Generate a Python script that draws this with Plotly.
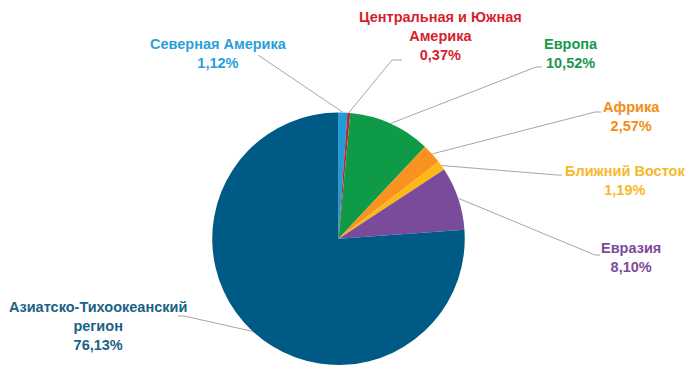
import math
import plotly.graph_objects as go

# ---- data ----
regions = ["Северная Америка", "Центральная и Южная Америка", "Европа", "Африка",
           "Ближний Восток", "Евразия", "Азиатско-Тихоокеанский регион"]
shares = [1.12, 0.37, 10.52, 2.57, 1.19, 8.10, 76.13]
share_labels = ["1,12%", "0,37%", "10,52%", "2,57%", "1,19%", "8,10%", "76,13%"]
label_texts = ["Северная Америка", "Центральная и Южная<br>Америка", "Европа", "Африка",
               "Ближний Восток", "Евразия", "Азиатско-Тихоокеанский<br>регион"]
slice_colors = ["#1B9DDE", "#C1272D", "#0E9A47", "#F7931E", "#FDB913", "#7B4B9B", "#005A86"]
text_colors = ["#2A9FDA", "#D51F2E", "#19984E", "#F28E12", "#F6B82A", "#7B4B9B", "#1A6286"]

# ---- layout (pixels, in window coordinates; page body has an 8px margin) ----
OFF = 8
W, H = 695 - OFF, 375 - OFF
dom_x = (212, 465)
dom_y = (112.5, 365)
cx = (dom_x[0] + dom_x[1]) / 2
cy = (dom_y[0] + dom_y[1]) / 2
R = (dom_x[1] - dom_x[0]) / 2

# label centre positions (px) and leader elbow/end points (px)
label_pos = [(219, 54), (440, 36), (571, 53), (631, 116), (625, 180), (631, 258), (98, 326)]
leader_elbow = [(258, 55), (392, 60), (536, 67), (595, 112), (557, 175), (595, 255), (184, 316)]
leader_end = [(258, 55), (402, 60), (542, 67), (601, 112), (562, 175), (600, 255), (178, 316)]

def px(x):
    return (x - OFF) / W

def py(y):
    return 1 - (y - OFF) / H

fig = go.Figure(go.Pie(
    labels=regions, values=shares, sort=False, direction="clockwise", rotation=0,
    marker=dict(colors=slice_colors, line=dict(width=0)),
    textinfo="none", hoverinfo="label+percent", showlegend=False,
    domain=dict(x=[px(dom_x[0]), px(dom_x[1])], y=[py(dom_y[1]), py(dom_y[0])]),
))

shapes = []
annotations = []
cum = 0.0
total = sum(shares)
for i, v in enumerate(shares):
    mid = (cum + v / 2) / total * 2 * math.pi
    cum += v
    sx = cx + R * math.sin(mid)
    sy = cy - R * math.cos(mid)
    ex, ey = leader_elbow[i]
    tx, ty = leader_end[i]
    path = f"M {px(sx)},{py(sy)} L {px(ex)},{py(ey)} L {px(tx)},{py(ty)}"
    shapes.append(dict(type="path", xref="paper", yref="paper", path=path,
                       line=dict(color="#A6A6A6", width=1)))
    lx, ly = label_pos[i]
    annotations.append(dict(
        x=px(lx), y=py(ly), xref="paper", yref="paper", showarrow=False,
        text=f"<b>{label_texts[i]}<br>{share_labels[i]}</b>",
        font=dict(family="Liberation Sans, Arial, sans-serif", size=14.5, color=text_colors[i]),
        align="center", xanchor="center", yanchor="middle",
    ))

fig.update_layout(
    width=W, height=H, margin=dict(l=0, r=0, t=0, b=0),
    paper_bgcolor="white", plot_bgcolor="white",
    shapes=shapes, annotations=annotations,
)

fig.write_html("out.html")
